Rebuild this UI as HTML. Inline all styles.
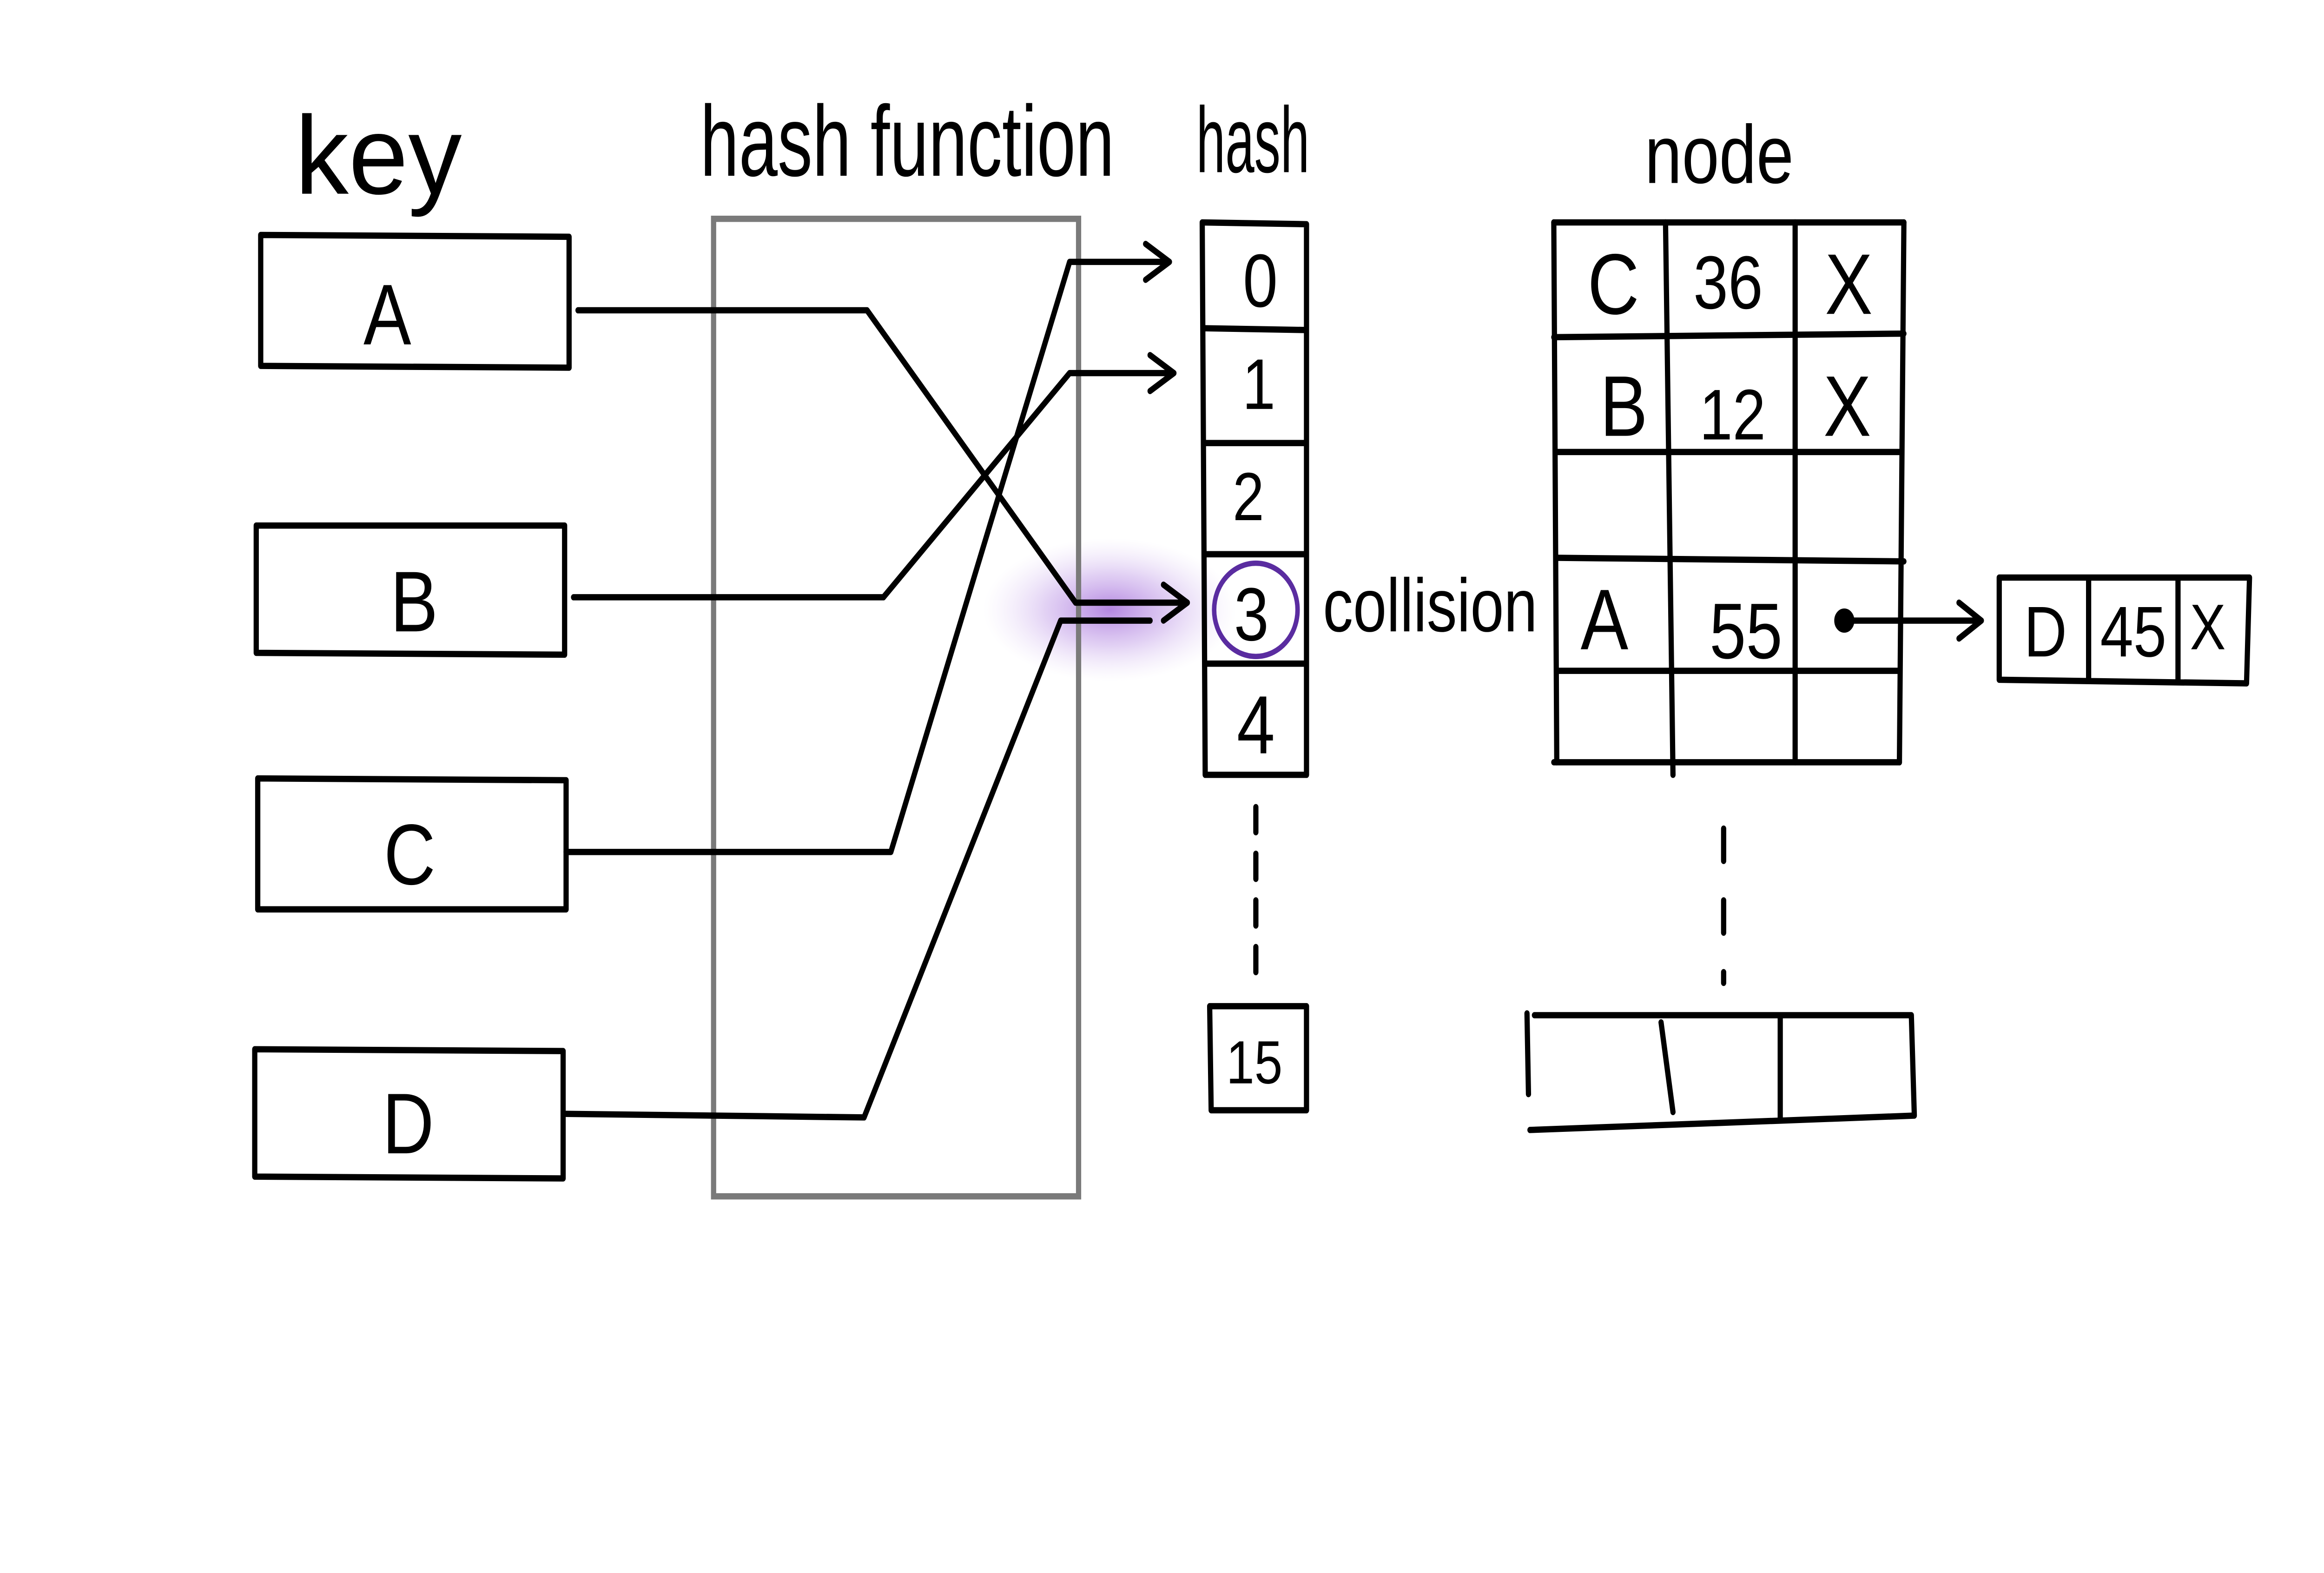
<!DOCTYPE html>
<html><head><meta charset="utf-8"><style>
html,body{margin:0;padding:0;background:#fff;overflow:hidden;width:100%;height:100%;}
svg{position:fixed;left:0;top:0;width:100vw;height:100vh;display:block;}
text{font-family:"Liberation Sans",sans-serif;fill:#000;}
</style></head><body>
<svg viewBox="0 0 1560 877" xmlns="http://www.w3.org/2000/svg" preserveAspectRatio="none">
<defs>
<radialGradient id="g" cx="0.5" cy="0.5" r="0.5">
<stop offset="0" stop-color="#9b5fd6" stop-opacity="0.75"/>
<stop offset="0.5" stop-color="#b58ae3" stop-opacity="0.4"/>
<stop offset="1" stop-color="#d9c4f2" stop-opacity="0"/>
</radialGradient>
</defs>
<rect width="1560" height="877" fill="#fff"/>
<ellipse cx="745" cy="340" rx="85" ry="40" fill="url(#g)"/>
<g fill="none" stroke="#000" stroke-width="3.5" stroke-linecap="round" stroke-linejoin="round">
<path d="M175 131 L382 132 L382 205 L175 204 Z"/>
<path d="M172 293 L379 293 L379 365 L172 364 Z"/>
<path d="M173 434 L380 435 L380 507 L173 507 Z"/>
<path d="M171 585 L378 586 L378 657 L171 656 Z"/>
</g>
<rect x="479" y="122" width="245" height="545" fill="none" stroke="#7a7a7a" stroke-width="3.5"/>
<g fill="none" stroke="#000" stroke-width="3.5" stroke-linecap="round" stroke-linejoin="round">
<path d="M807 124 L877 125 L877 432 L809 432 Z"/>
<path d="M808 183 L877 184 M808 247 L877 247 M809 309 L877 309 M809 370 L877 370"/>
<path d="M843 450 L843 552" stroke-dasharray="14 12"/>
<path d="M812 561 L877 561 L877 619 L813 619 Z"/>
<ellipse cx="843" cy="340" rx="28" ry="26" stroke="#5a2ca0" stroke-width="3"/>
<path d="M1043 124 L1278 124 M1043 188 L1278 186 M1045 252 L1275 252 M1045 311 L1278 313 M1045 374 L1275 374 M1043 425 L1275 425"/>
<path d="M1043 124 L1045 425 M1118 124 L1123 432 M1205 124 L1205 425 M1278 124 L1275 425"/>
<circle cx="1238" cy="346" r="5" fill="#000"/>
<path d="M1238 346 L1330 346 M1315 336 L1330 346 L1315 356"/>
<path d="M1342 322 L1510 322 L1508 381 L1342 379 Z M1402 322 L1402 379 M1462 322 L1462 379"/>
<path d="M1157 462 L1157 548" stroke-dasharray="18 22"/>
<path d="M1025 565 L1026 610 M1030 566 L1283 566 M1027 630 L1285 622 M1283 566 L1285 622 M1115 570 L1123 620 M1195 566 L1195 624"/>
<path d="M388 173 L582 173 L722 336 L797 336"/>
<path d="M385 333 L593 333 L718 208 L788 208 M772 198 L788 208 L772 218"/>
<path d="M380 475 L598 475 L718 146 L785 146 M769 136 L785 146 L769 156"/>
<path d="M380 621 L580 623 L712 346 L772 346"/>
<path d="M781 326 L797 336 L781 346"/>
</g>
<text x="198" y="108" font-size="62" textLength="112" lengthAdjust="spacingAndGlyphs">key</text>
<text x="470" y="98" font-size="56" textLength="278" lengthAdjust="spacingAndGlyphs">hash function</text>
<text x="803" y="96" font-size="52" textLength="76" lengthAdjust="spacingAndGlyphs">hash</text>
<text x="1104" y="102" font-size="46" textLength="100" lengthAdjust="spacingAndGlyphs">node</text>
<g font-size="48" text-anchor="middle">
<text x="260" y="192">A</text>
<text x="278" y="352">B</text>
<text x="275" y="493">C</text>
<text x="274" y="643">D</text>
<text x="846" y="171" font-size="42">0</text>
<text x="845" y="228" font-size="40">1</text>
<text x="838" y="290" font-size="38">2</text>
<text x="840" y="357" font-size="42">3</text>
<text x="843" y="420" font-size="46">4</text>
<text x="842" y="604" font-size="34">15</text>
<text x="1083" y="175">C</text>
<text x="1160" y="172" font-size="42">36</text>
<text x="1241" y="175">X</text>
<text x="1090" y="243">B</text>
<text x="1163" y="245" font-size="40">12</text>
<text x="1240" y="243">X</text>
<text x="1077" y="362">A</text>
<text x="1172" y="367" font-size="44">55</text>
<text x="1373" y="366" font-size="40">D</text>
<text x="1432" y="366" font-size="40">45</text>
<text x="1482" y="362" font-size="36">X</text>
</g>
<text x="888" y="352" font-size="42" textLength="144" lengthAdjust="spacingAndGlyphs">collision</text>
</svg>
</body></html>
